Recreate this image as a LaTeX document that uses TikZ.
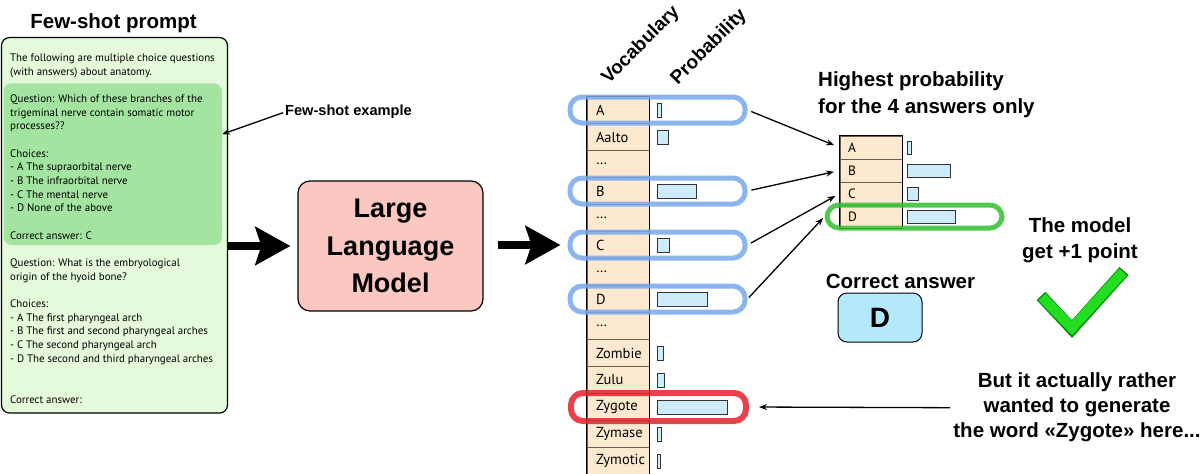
\documentclass[tikz,border=0pt]{standalone}
\usepackage{fontspec}
\setmainfont{PT Sans}
\newfontfamily\headfont{Liberation Sans}
\usepackage{xcolor}
\usetikzlibrary{arrows.meta}

\definecolor{promptgreen}{HTML}{E5FADA}
\definecolor{examplegreen}{HTML}{A3E4A0}
\definecolor{llmpink}{HTML}{FAC8C0}
\definecolor{peach}{HTML}{FDE9D0}
\definecolor{barblue}{HTML}{CDEBF9}
\definecolor{capblue}{HTML}{78A8EA}
\definecolor{capred}{HTML}{E4202C}
\definecolor{capgreen}{HTML}{33C033}
\definecolor{tickgreen}{HTML}{22DD22}
\definecolor{answerblue}{HTML}{B3E9FB}
\definecolor{rowline}{HTML}{6A5C50}

\tikzset{
    >={Stealth[length=8pt,width=6pt]}, % thin pointer arrows
    heading/.style={font=\headfont\bfseries\fontsize{20.5}{26.7}\selectfont, inner sep=0pt},
    colhead/.style={font=\headfont\bfseries\fontsize{19}{22}\selectfont, inner sep=0pt},
    bodytext/.style={font=\fontsize{10.9}{13.67}\selectfont, align=left, inner sep=0pt},
    promptbox/.style={draw=black, line width=1.2pt, fill=promptgreen, rounded corners=8pt, inner sep=0pt},
    examplebox/.style={fill=examplegreen, rounded corners=8pt, inner sep=0pt},
    llmbox/.style={draw=black, line width=1.2pt, fill=llmpink, rounded corners=12pt,
        font=\headfont\bfseries\fontsize{27}{37.5}\selectfont, align=center},
    vocabcell/.style={draw=rowline, fill=peach, minimum width=62pt, minimum height=27pt,
        text width=44pt, inner xsep=9pt, inner ysep=0pt, align=left, font=\fontsize{14.5}{16}\selectfont},
    smallcell/.style={draw=rowline, fill=peach, minimum width=62pt, minimum height=23pt,
        text width=46pt, inner xsep=8pt, inner ysep=0pt, align=left, font=\fontsize{13.5}{15}\selectfont},
    probbar/.style={draw=black!80, fill=barblue, minimum height=14pt, inner sep=0pt, anchor=west},
    capsule/.style={draw=#1, draw opacity=0.85, line width=5pt, rounded corners=12pt,
        minimum width=175pt, minimum height=26pt, inner sep=0pt},
    bigarrow/.style={line width=8pt, -{Stealth[length=35pt,width=38pt,inset=6pt]}},
    ptr/.style={->, line width=1.3pt},
    answerbox/.style={draw=black, line width=1pt, fill=answerblue, rounded corners=9pt,
        minimum width=84pt, minimum height=49pt, font=\headfont\bfseries\fontsize{28}{30}\selectfont}
}

\begin{document}
\begin{tikzpicture}[x=1pt, y=-1pt]
    \useasboundingbox (0,0) rectangle (1200,474);

    % ---------------- few-shot prompt ----------------
    \node[heading, anchor=base] (fewtitle) at (113.5,28) {Few-shot prompt};
    \node[promptbox, minimum width=226pt, minimum height=375.5pt] (prompt) at (114.5,225.3) {};
    \node[examplebox, minimum width=218.4pt, minimum height=161.7pt] (example) at (112.7,164.2) {};

    % base of a multi-line node = its last line
    \node[bodytext, anchor=base west] (prompttext) at (10,403.3) {%
        The following are multiple choice questions\\
        (with answers) about anatomy.\\[13.67pt]
        Question: Which of these branches of the\\
        trigeminal nerve contain somatic motor\\
        processes??\\[13.67pt]
        Choices:\\
        - A The supraorbital nerve\\
        - B The infraorbital nerve\\
        - C The mental nerve\\
        - D None of the above\\[13.67pt]
        Correct answer: C\\[13.67pt]
        Question: What is the embryological\\
        origin of the hyoid bone?\\[13.67pt]
        Choices:\\
        - A The first pharyngeal arch\\
        - B The first and second pharyngeal arches\\
        - C The second pharyngeal arch\\
        - D The second and third pharyngeal arches\\[27.34pt]
        Correct answer:};

    \node[heading, font=\headfont\bfseries\fontsize{14.6}{16}\selectfont, anchor=west] (fewex) at (285,112) {Few-shot example};
    \draw[ptr, shorten <=2pt] (fewex.west) -- ([yshift=30pt]example.east);

    % ---------------- model ----------------
    \node[llmbox, minimum width=185pt, minimum height=130pt] (llm) at (390.5,246) {Large\\Language\\Model};
    \draw[bigarrow, shorten >=7pt] (prompt.east |- llm.west) -- (llm.west);

    % ---------------- vocabulary ----------------
    \node[colhead, rotate=45] (vochead) at (641,45) {Vocabulary};
    \node[colhead, rotate=45] (probhead) at (709,47) {Probability};

    \foreach \w/\b [count=\i from 0] in {A/4,Aalto/11,\dots/0,B/39,\dots/0,C/12,\dots/0,D/50,\dots/0,Zombie/6,Zulu/7,Zygote/70,Zymase/4,Zymotic/3}{
        \node[vocabcell] (v\i) at (618,{110+27*\i}) {\w};
        \ifnum\b>0
            \node[probbar, minimum width=\b pt] (p\i) at ([xshift=8pt]v\i.east) {};
        \fi
    }
    \draw[line width=1.2pt] (v0.north west) rectangle (v13.south east);

    \node[capsule=capblue] (cA) at (657.5,110) {};
    \node[capsule=capblue] (cB) at (657.5,191) {};
    \node[capsule=capblue] (cC) at (657.5,245) {};
    \node[capsule=capblue] (cD) at (657.5,299) {};
    \node[capsule=capred, line width=6pt, minimum height=28pt] (cZ) at (658.5,407) {};

    \draw[bigarrow, shorten <=14pt, shorten >=7pt] (llm.east |- cC.west) -- (cC.west);

    % ---------------- four answers ----------------
    \node[heading, align=left, anchor=west] (besthead) at (818,94.7) {Highest probability\\for the 4 answers only};

    \foreach \w/\b [count=\i from 0] in {A/4,B/43,C/11,D/48}{
        \node[smallcell] (s\w) at (871,{147.5+23*\i}) {\w};
        \node[probbar, minimum width=\b pt, minimum height=13pt] (q\w) at ([xshift=5pt]s\w.east) {};
    }
    \draw[line width=1.2pt] (sA.north west) rectangle (sD.south east);
    \node[capsule=capgreen, minimum height=23pt] (gD) at (914.5,216.5) {};

    \draw[ptr, shorten <=4pt, shorten >=6pt] (cA.east) -- (sA.west);
    \draw[ptr, shorten <=4pt, shorten >=6pt] (cB.east) -- (sB.west);
    \draw[ptr, shorten <=4pt, shorten >=5pt] (cC.east) -- (sC.west);
    \draw[ptr, shorten <=2pt, shorten >=2pt] (cD.east) -- (gD.west);

    % ---------------- scoring ----------------
    \node[heading, align=center] (pointnote) at (1080,240.2) {The model\\get +1 point};
    \draw[line width=12pt, draw=green!55!black] (1041,296) -- (1072,329) -- (1124,271);
    \draw[line width=10pt, draw=tickgreen] (1042,297) -- (1072,328) -- (1123,272);

    \node[heading, anchor=base] (answerhead) at (900.5,288.3) {Correct answer};
    \node[answerbox] (answer) at (880,317.5) {D};

    \node[heading, align=center, font=\headfont\bfseries\fontsize{20.5}{25}\selectfont] (zygnote) at (1077,407.7)
        {But it actually rather\\wanted to generate\\the word «Zygote» here...};
    \draw[ptr, shorten <=3pt, shorten >=10pt] (zygnote.west) -- (cZ.east);
\end{tikzpicture}
\end{document}
